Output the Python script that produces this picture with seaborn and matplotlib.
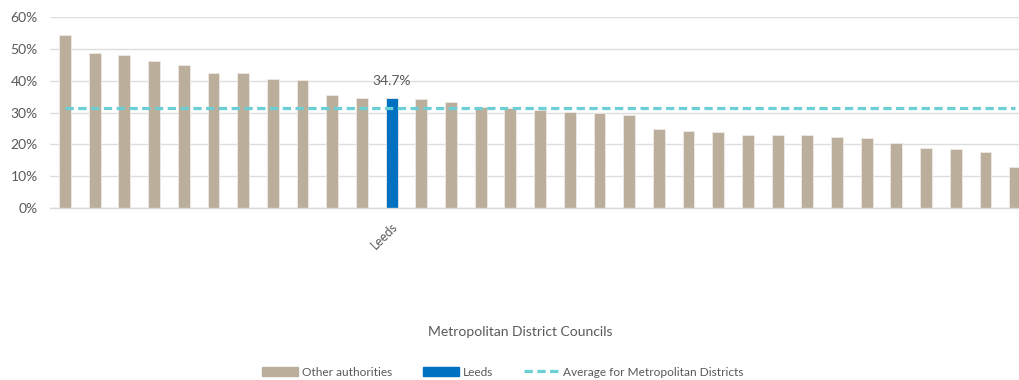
import matplotlib
matplotlib.use("Agg")
import matplotlib.pyplot as plt
from matplotlib.patches import Patch
from matplotlib.lines import Line2D
from matplotlib.ticker import PercentFormatter
import seaborn as sns
import pandas as pd

# ---- data ----
values = [54.3, 48.7, 48.2, 46.3, 44.9, 42.5, 42.3, 40.4, 40.2, 35.6, 34.5,
          34.7, 34.3, 33.2, 31.7, 31.4, 30.9, 30.3, 29.9, 29.2, 24.9, 24.2,
          23.9, 23.0, 22.8, 22.8, 22.3, 22.0, 20.4, 18.8, 18.5, 17.5, 13.0]
groups = ["Other authorities"] * 11 + ["Leeds"] + ["Other authorities"] * 21
tick_labels = [""] * 11 + ["Leeds"] + [""] * 21
average = 31.5
leeds_label = "34.7%"
x_title = "Metropolitan District Councils"
legend_labels = ["Other authorities", "Leeds", "Average for Metropolitan Districts"]

TAN = "#BBAE9A"
BLUE = "#0070C0"
CYAN = "#6DCFD6"
GREY = "#595959"

sns.set_theme(style="white")
plt.rcParams["font.family"] = ["Lato", "DejaVu Sans"]

df = pd.DataFrame({"pos": list(range(len(values))), "value": values, "group": groups})

fig = plt.figure(figsize=(10.19, 3.8), dpi=100)
ax = fig.add_axes([50.15 / 1019, 1 - 208 / 380, 1 - 50.15 / 1019, (208 - 17) / 380])

sns.barplot(data=df, x="pos", y="value", hue="group",
            palette={"Other authorities": TAN, "Leeds": BLUE}, saturation=1,
            dodge=False, width=0.4, legend=False, ax=ax,
            edgecolor="#EFEBE4", linewidth=0.6, zorder=2)

sns.lineplot(x=df["pos"], y=[average] * len(values), ax=ax, color=CYAN,
             lw=2.3, zorder=3)
ax.lines[-1].set_dashes((2.6, 1.4))
ax.lines[-1].set_solid_capstyle("butt")

leeds_idx = groups.index("Leeds")
ax.text(leeds_idx, values[leeds_idx] + 3.2, leeds_label, ha="center", va="bottom",
        fontsize=10, color=GREY)

ax.set_ylim(0, 60)
ax.set_xlim(-0.5, 32.13)
ax.set_yticks(range(0, 61, 10))
ax.yaxis.set_major_formatter(PercentFormatter(decimals=0))
ax.set_xticks(range(len(values)))
ax.set_xticklabels(tick_labels, rotation=45, ha="right", rotation_mode="anchor",
                   fontsize=9, color=GREY)
ax.tick_params(axis="y", labelsize=10, labelcolor=GREY, length=0, pad=9)
ax.tick_params(axis="x", length=0, pad=9)
ax.grid(axis="y", color="#DDDDDD", lw=1, zorder=0)
ax.set_axisbelow(True)
for s in ["top", "right", "left"]:
    ax.spines[s].set_visible(False)
ax.spines["bottom"].set_color("#D9D9D9")
ax.spines["bottom"].set_linewidth(1)
ax.set_xlabel("")
ax.set_ylabel("")

fig.text(520 / 1019, 1 - 332 / 380, x_title, ha="center", va="center",
         fontsize=10, color=GREY)

handles = [Patch(facecolor=TAN, edgecolor=TAN),
           Patch(facecolor=BLUE, edgecolor=BLUE),
           Line2D([0], [0], color=CYAN, lw=2.3, dashes=(2.6, 1.4))]
leg = fig.legend(handles, legend_labels, loc="center", ncol=3,
                 bbox_to_anchor=(503 / 1019, 1 - 372 / 380), frameon=False,
                 fontsize=8.6, handlelength=3.0, handletextpad=0.3,
                 columnspacing=2.6, borderaxespad=0, borderpad=0)
for t in leg.get_texts():
    t.set_color(GREY)

fig.savefig("out.png", dpi=100)
